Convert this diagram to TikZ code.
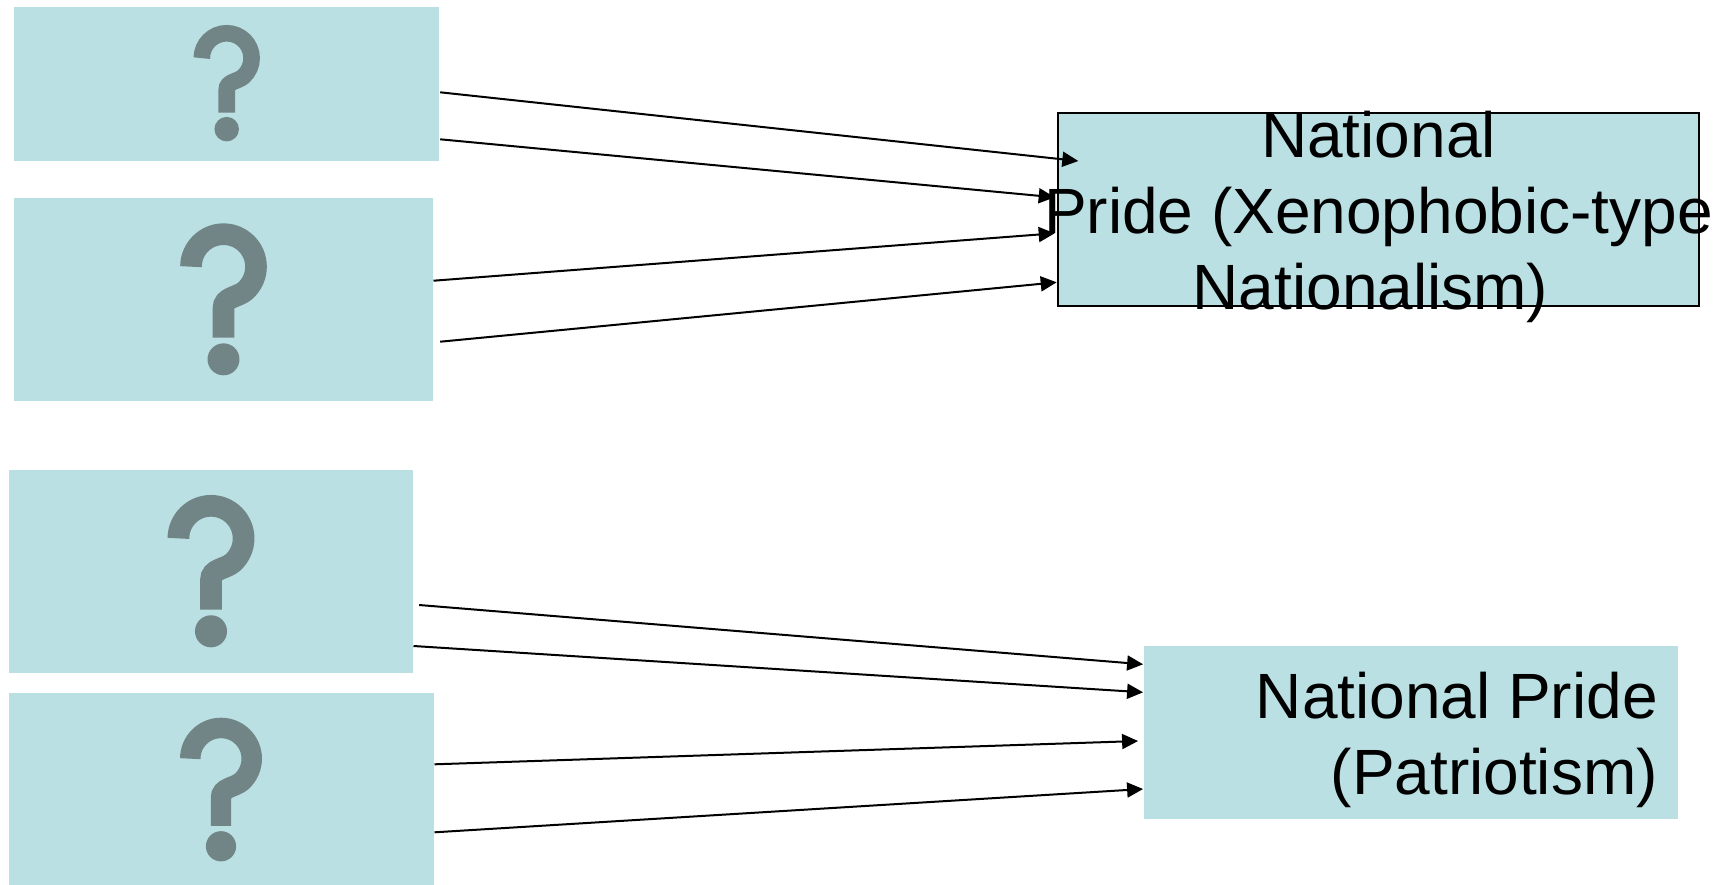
\documentclass[tikz,border=0pt]{standalone}
\usepackage{fontspec}
\setmainfont{Liberation Sans}
\usetikzlibrary{arrows.meta,calc}
\definecolor{boxfill}{HTML}{BAE0E3}
\definecolor{glyphgrey}{HTML}{718586}
\tikzset{
  % question-mark icon, #1 = overall height
  pics/qmark/.style={code={
    \pgfmathsetmacro\qlw{0.1422*#1}
    \begin{scope}[x=#1pt,y=#1pt]
      \draw[glyphgrey,line width=\qlw pt,line cap=butt]
        (-0.2134,0.2155) arc[start angle=180,end angle=-48,radius=0.2134]
        .. controls (0.0934,0.0129) and (0,0.0186) .. (0,-0.058) -- (0,-0.2505);
      \fill[glyphgrey] (0,-0.3928) circle[radius=0.105];
    \end{scope}}},
  srcbox/.style={rectangle,fill=boxfill,draw=none,inner sep=0pt},
  targetbox/.style={rectangle,fill=boxfill,inner sep=0pt},
  link/.style={line width=2pt,-{Triangle[length=16pt,width=15pt]}},
  bigtext/.style={font=\fontsize{64}{76}\selectfont,inner sep=0pt,text=black}
}
\begin{document}
\begin{tikzpicture}[x=1pt,y=-1pt]
\useasboundingbox (0,0) rectangle (1731,884);

% unknown factors
\node[srcbox,minimum width=425pt,minimum height=154pt] (s1) at (226.5,84) {};
\node[srcbox,minimum width=419pt,minimum height=203pt] (s2) at (223.5,299.5) {};
\node[srcbox,minimum width=404pt,minimum height=203pt] (s3) at (211,571.5) {};
\node[srcbox,minimum width=425pt,minimum height=193pt] (s4) at (221.5,789.5) {};
\pic at (226.7,83.3) {qmark=116.7};
\pic at (223.5,299.5) {qmark=152.3};
\pic at (211,571.3) {qmark=152.7};
\pic at (221,789.7) {qmark=144};

% outcomes
\node[targetbox,draw=black,line width=2pt,minimum width=641pt,minimum height=193pt] (x) at (1378.5,209.5) {};
\node[targetbox,draw=none,minimum width=534pt,minimum height=173pt] (p) at (1411,732.5) {};

% links
\draw[link] ($(s1.east)+(1,8.3)$) -- ($(x.west)+(21.3,-48.5)$);
\draw[link] ($(s1.east)+(1,55.3)$) -- ($(x.west)+(-2.3,-12.2)$);
\draw[link] ($(s2.east)+(0.3,-18.8)$) -- ($(x.west)+(-2.3,23.8)$);
\draw[link] ($(s2.east)+(7,42.2)$) -- ($(x.west)+(-0.3,72.8)$);
\draw[link] ($(s3.east)+(6,33.5)$) -- ($(p.west)+(-0.7,-68.2)$);
\draw[link] ($(s3.east)+(0.3,74.5)$) -- ($(p.west)+(-0.7,-40.2)$);
\draw[link] ($(s4.east)+(0.3,-25.2)$) -- ($(p.west)+(-5.7,8.5)$);
\draw[link] ($(s4.east)+(0.3,42.8)$) -- ($(p.west)+(-0.7,56.5)$);

% labels
\node[bigtext,align=center,anchor=north] (xt) at (1378.5,111.2) {National\\Pride (Xenophobic-type\\Nationalism)\kern16pt};
\node[bigtext,align=right,anchor=north east] (pt) at (1658,671.9) {National Pride\\(Patriotism)};
\end{tikzpicture}
\end{document}
